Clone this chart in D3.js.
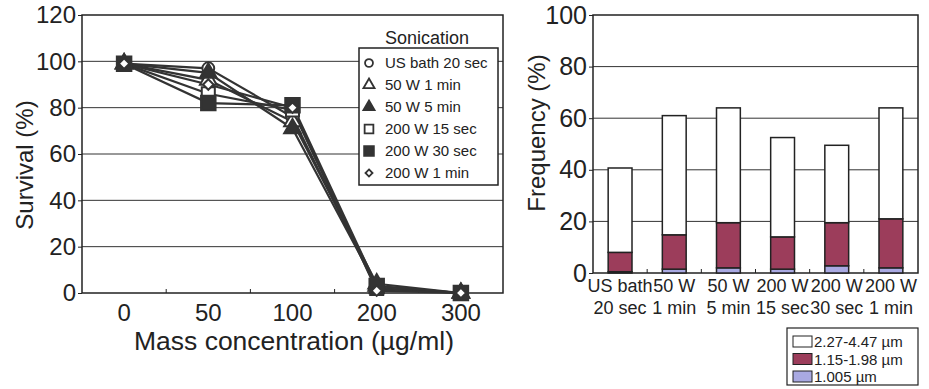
<!DOCTYPE html>
<html>
<head>
<meta charset="utf-8">
<script src="https://cdn.jsdelivr.net/npm/d3@7"></script>
<style>
  body { margin: 0; background: #fff; }
  svg { display: block; font-family: "Liberation Sans", Arial, sans-serif; }
</style>
</head>
<body>
<div id="chart"></div>
<script>
// Left panel: survival vs. mass concentration
const concentrations = ["0", "50", "100", "200", "300"];
const survivalTicks = [0, 20, 40, 60, 80, 100, 120];
const sonicationNames = ["US bath 20 sec", "50 W 1 min", "50 W 5 min", "200 W 15 sec", "200 W 30 sec", "200 W 1 min"];
const survivalUsBath20s = [99, 97, 76, 2, 0];
const survival50W1min = [99, 92, 74, 4, 0];
const survival50W5min = [99, 95, 71, 3, 0];
const survival200W15s = [99, 86, 79, 2, 0];
const survival200W30s = [99, 82, 81, 3, 0];
const survival200W1min = [99, 90, 80, 1, 0];

// Right panel: frequency by sonication condition
const conditionLine1 = ["US bath", "50 W", "50 W", "200 W", "200 W", "200 W"];
const conditionLine2 = ["20 sec", "1 min", "5 min", "15 sec", "30 sec", "1 min"];
const frequencyTicks = [0, 20, 40, 60, 80, 100];
const sizeClasses = ["1.005 µm", "1.15-1.98 µm", "2.27-4.47 µm"];
const freqSmall = [0.5, 1.5, 2, 1.5, 2.8, 2];
const freqMedium = [7.5, 13.3, 17.5, 12.5, 16.7, 19];
const freqLarge = [32.7, 46.2, 44.5, 38.5, 30, 43];

const W = 929, H = 389;
const ink = "#222";
const FONT = "Liberation Sans, Arial, sans-serif";

const svg = d3.select("#chart").append("svg")
  .attr("width", W).attr("height", H);

// ---------- left chart ----------
const x1 = d3.scaleBand().domain(concentrations).range([82, 503]);
const y1 = d3.scaleLinear().domain([0, 120]).range([293, 15]);

const g1 = svg.append("g");

// grid
g1.selectAll(".grid1")
  .data(survivalTicks.filter(d => d > 0 && d < 120))
  .enter().append("line")
  .attr("x1", x1.range()[0]).attr("x2", x1.range()[1])
  .attr("y1", d => y1(d)).attr("y2", d => y1(d))
  .attr("stroke", "#333").attr("stroke-width", 1);

g1.append("rect")
  .attr("x", 82).attr("y", y1(120))
  .attr("width", 503 - 82).attr("height", y1(0) - y1(120))
  .attr("fill", "none").attr("stroke", ink).attr("stroke-width", 1.5);

// y axis
g1.append("g")
  .attr("transform", "translate(82,0)")
  .call(d3.axisLeft(y1).tickValues(survivalTicks).tickSize(4).tickPadding(2))
  .call(g => g.select(".domain").remove())
  .call(g => g.selectAll("line").attr("stroke", ink))
  .call(g => g.selectAll("text").attr("font-size", 24).attr("fill", "#222").attr("font-family", FONT));

// x axis: small inward ticks at band boundaries
g1.selectAll(".xb1")
  .data(concentrations.slice(1))
  .enter().append("line")
  .attr("x1", d => x1(d)).attr("x2", d => x1(d))
  .attr("y1", y1(0)).attr("y2", y1(0) - 4)
  .attr("stroke", ink);

g1.append("g")
  .attr("transform", `translate(0,${y1(0)})`)
  .call(d3.axisBottom(x1).tickSize(0).tickPadding(11))
  .call(g => g.select(".domain").remove())
  .call(g => g.selectAll("text").attr("font-size", 24).attr("fill", "#222").attr("font-family", FONT));

g1.append("text")
  .attr("x", 294).attr("y", 350)
  .attr("text-anchor", "middle")
  .attr("font-size", 25).attr("fill", "#222")
  .attr("textLength", 320).attr("lengthAdjust", "spacingAndGlyphs")
  .text("Mass concentration (µg/ml)");

g1.append("text")
  .attr("transform", "translate(33,165) rotate(-90)")
  .attr("text-anchor", "middle")
  .attr("font-size", 24).attr("fill", "#222")
  .text("Survival (%)");

// series
const seriesList = [
  { name: sonicationNames[0], values: survivalUsBath20s, type: d3.symbolCircle, size: 110, fill: "#fff" },
  { name: sonicationNames[1], values: survival50W1min, type: d3.symbolTriangle, size: 120, fill: "#fff" },
  { name: sonicationNames[2], values: survival50W5min, type: d3.symbolTriangle, size: 120, fill: "#333" },
  { name: sonicationNames[3], values: survival200W15s, type: d3.symbolSquare, size: 170, fill: "#fff" },
  { name: sonicationNames[4], values: survival200W30s, type: d3.symbolSquare, size: 210, fill: "#333" },
  { name: sonicationNames[5], values: survival200W1min, type: d3.symbolDiamond2, size: 70, fill: "#fff" }
];

const line = d3.line()
  .x((d, i) => x1(concentrations[i]) + x1.bandwidth() / 2)
  .y(d => y1(d));

seriesList.forEach(s => {
  g1.append("path")
    .attr("d", line(s.values))
    .attr("fill", "none").attr("stroke", "#333").attr("stroke-width", 2.2);
});

seriesList.forEach(s => {
  g1.selectAll(null)
    .data(s.values)
    .enter().append("path")
    .attr("transform", (d, i) => `translate(${x1(concentrations[i]) + x1.bandwidth() / 2},${y1(d)})`)
    .attr("d", d3.symbol().type(s.type).size(s.size))
    .attr("fill", s.fill).attr("stroke", "#333").attr("stroke-width", 2);
});

// legend
const leg1 = g1.append("g");
leg1.append("text")
  .attr("x", 427).attr("y", 44)
  .attr("text-anchor", "middle")
  .attr("font-size", 18).attr("fill", "#222")
  .text("Sonication");
leg1.append("rect")
  .attr("x", 359).attr("y", 48).attr("width", 139).attr("height", 137)
  .attr("fill", "#fff").attr("stroke", ink).attr("stroke-width", 1.5);
const legRow = d3.scaleLinear().domain([0, 5]).range([63, 173]);
seriesList.forEach((s, i) => {
  leg1.append("path")
    .attr("transform", `translate(369,${legRow(i)})`)
    .attr("d", d3.symbol().type(s.type).size(s.size * 0.45))
    .attr("fill", s.fill === "#fff" ? "#fff" : "#333")
    .attr("stroke", "#333").attr("stroke-width", 1.8);
  leg1.append("text")
    .attr("x", 385).attr("y", legRow(i) + 5)
    .attr("font-size", 15).attr("fill", "#222")
    .text(s.name);
});

// ---------- right chart ----------
const cats = conditionLine1.map((d, i) => d + " " + conditionLine2[i]);
const x2 = d3.scaleBand().domain(cats).range([593, 918]).paddingInner(0.56).paddingOuter(0.28);
const x2b = d3.scaleBand().domain(cats).range([593, 918]);
const y2 = d3.scaleLinear().domain([0, 100]).range([273, 15]);

const g2 = svg.append("g");

g2.selectAll(".grid2")
  .data(frequencyTicks.filter(d => d > 0 && d < 100))
  .enter().append("line")
  .attr("x1", 593).attr("x2", 918)
  .attr("y1", d => y2(d)).attr("y2", d => y2(d))
  .attr("stroke", "#333").attr("stroke-width", 1);

g2.append("rect")
  .attr("x", 593).attr("y", y2(100))
  .attr("width", 918 - 593).attr("height", y2(0) - y2(100))
  .attr("fill", "none").attr("stroke", ink).attr("stroke-width", 1.5);

g2.append("g")
  .attr("transform", "translate(593,0)")
  .call(d3.axisLeft(y2).tickValues(frequencyTicks).tickSize(4).tickPadding(2))
  .call(g => g.select(".domain").remove())
  .call(g => g.selectAll("line").attr("stroke", ink))
  .call(g => g.selectAll("text").attr("font-size", 25).attr("fill", "#222").attr("font-family", FONT));

g2.append("text")
  .attr("transform", "translate(545,133) rotate(-90)")
  .attr("text-anchor", "middle")
  .attr("font-size", 24).attr("fill", "#222")
  .text("Frequency (%)");

const stackData = cats.map((c, i) => ({
  cat: c,
  [sizeClasses[0]]: freqSmall[i],
  [sizeClasses[1]]: freqMedium[i],
  [sizeClasses[2]]: freqLarge[i]
}));
const stacked = d3.stack().keys(sizeClasses)(stackData);
const colors = d3.scaleOrdinal().domain(sizeClasses).range(["#a9a9e2", "#9c3d5b", "#ffffff"]);

g2.selectAll(".layer")
  .data(stacked)
  .enter().append("g")
  .attr("fill", d => colors(d.key))
  .selectAll("rect")
  .data(d => d)
  .enter().append("rect")
  .attr("x", d => x2(d.data.cat))
  .attr("y", d => y2(d[1]))
  .attr("width", x2.bandwidth())
  .attr("height", d => y2(d[0]) - y2(d[1]))
  .attr("stroke", ink).attr("stroke-width", 1.5);

// inward ticks between categories
g2.selectAll(".xb2")
  .data(cats.slice(1))
  .enter().append("line")
  .attr("x1", d => x2b(d)).attr("x2", d => x2b(d))
  .attr("y1", y2(0)).attr("y2", y2(0) - 4)
  .attr("stroke", ink);

const xl = g2.selectAll(".xl2")
  .data(cats)
  .enter().append("text")
  .attr("text-anchor", "middle")
  .attr("font-size", 18).attr("fill", "#222");
xl.append("tspan")
  .attr("x", d => x2(d) + x2.bandwidth() / 2).attr("y", 292)
  .text((d, i) => conditionLine1[i]);
xl.append("tspan")
  .attr("x", d => x2(d) + x2.bandwidth() / 2).attr("y", 314)
  .text((d, i) => conditionLine2[i]);

// legend
const leg2 = g2.append("g");
leg2.append("rect")
  .attr("x", 787).attr("y", 328).attr("width", 131).attr("height", 57)
  .attr("fill", "#fff").attr("stroke", ink).attr("stroke-width", 1.2);
const legOrder = sizeClasses.slice().reverse();
legOrder.forEach((k, i) => {
  const cy = 342 + i * 17.5;
  leg2.append("rect")
    .attr("x", 793).attr("y", cy - 6).attr("width", 19).attr("height", 11)
    .attr("fill", colors(k)).attr("stroke", ink).attr("stroke-width", 1);
  leg2.append("text")
    .attr("x", 814).attr("y", cy + 5)
    .attr("font-size", 15).attr("fill", "#222")
    .text(k);
});
</script>
</body>
</html>
